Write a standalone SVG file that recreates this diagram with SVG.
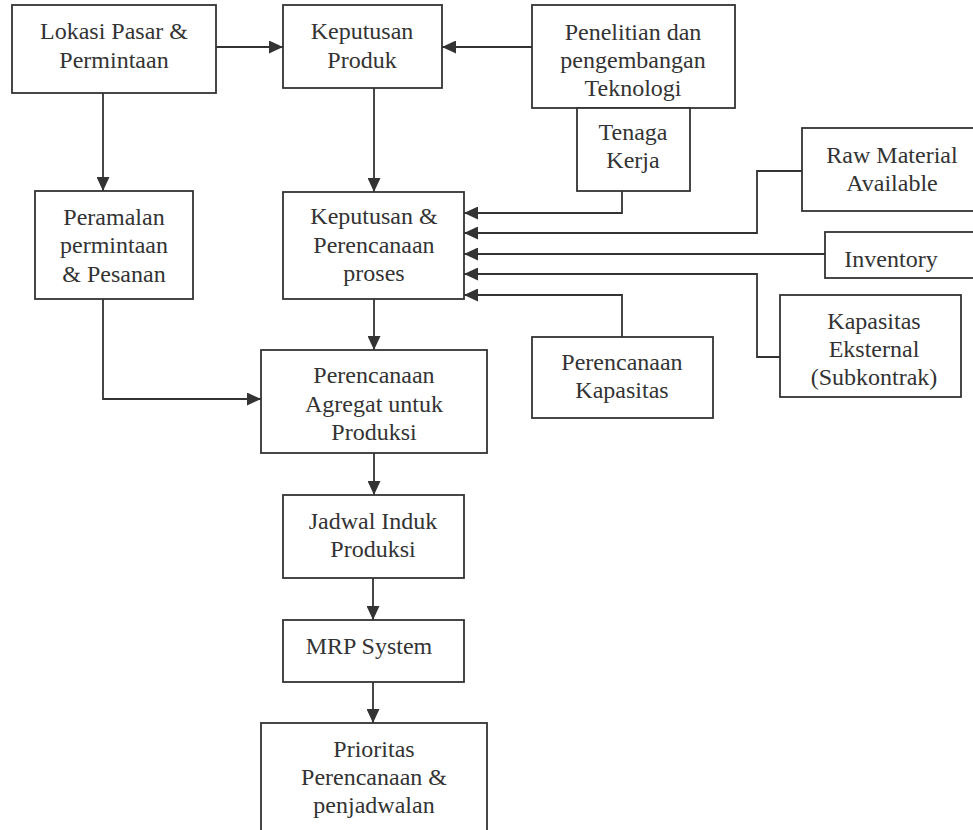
<svg xmlns="http://www.w3.org/2000/svg" width="973" height="830" viewBox="0 0 973 830">
<defs>
<marker id="ah" markerUnits="userSpaceOnUse" markerWidth="14" markerHeight="13" refX="14" refY="6.5" orient="auto">
<path d="M0,0 L14,6.5 L0,13 Z" fill="#333"/>
</marker>
</defs>
<rect width="973" height="830" fill="#fff"/>
<g id="connectors" fill="none" stroke="#333" stroke-width="1.8" marker-end="url(#ah)">
<path d="M216,47 H283"/>
<path d="M532,47 H442"/>
<path d="M103,93 V191"/>
<path d="M374,88 V192"/>
<path d="M622,191 V213 H464"/>
<path d="M802,171 H757 V233 H464"/>
<path d="M825,254 H464"/>
<path d="M780,357 H757 V274 H464"/>
<path d="M622,337 V295 H464"/>
<path d="M374,299 V350"/>
<path d="M103,299 V399 H261"/>
<path d="M374,453 V495"/>
<path d="M373,578 V620"/>
<path d="M373,682 V723"/>
</g>
<g id="lokasi"><rect fill="#fff" stroke="#333" stroke-width="1.8" x="12" y="5" width="204" height="88"/><text font-family="Times New Roman, Liberation Serif, serif" font-size="24" fill="#333" text-anchor="middle" x="114" y="39">Lokasi Pasar &amp;</text><text font-family="Times New Roman, Liberation Serif, serif" font-size="24" fill="#333" text-anchor="middle" x="114" y="68">Permintaan</text></g>
<g id="keputusan-produk"><rect fill="#fff" stroke="#333" stroke-width="1.8" x="283" y="5" width="159" height="83"/><text font-family="Times New Roman, Liberation Serif, serif" font-size="24" fill="#333" text-anchor="middle" x="362" y="39">Keputusan</text><text font-family="Times New Roman, Liberation Serif, serif" font-size="24" fill="#333" text-anchor="middle" x="362" y="68">Produk</text></g>
<g id="penelitian"><text font-family="Times New Roman, Liberation Serif, serif" font-size="24" fill="#333" text-anchor="middle" x="633" y="40">Penelitian dan</text><text font-family="Times New Roman, Liberation Serif, serif" font-size="24" fill="#333" text-anchor="middle" x="633" y="68">pengembangan</text><text font-family="Times New Roman, Liberation Serif, serif" font-size="24" fill="#333" text-anchor="middle" x="633" y="96">Teknologi</text><rect fill="none" stroke="#333" stroke-width="1.8" x="532" y="5" width="203" height="103"/></g>
<g id="tenaga"><rect fill="#fff" stroke="#333" stroke-width="1.8" x="577" y="108" width="113" height="83"/><text font-family="Times New Roman, Liberation Serif, serif" font-size="24" fill="#333" text-anchor="middle" x="633" y="140">Tenaga</text><text font-family="Times New Roman, Liberation Serif, serif" font-size="24" fill="#333" text-anchor="middle" x="633" y="168">Kerja</text></g>
<g id="raw-material"><rect fill="#fff" stroke="#333" stroke-width="1.8" x="802" y="128" width="180" height="83"/><text font-family="Times New Roman, Liberation Serif, serif" font-size="24" fill="#333" text-anchor="middle" x="892" y="163">Raw Material</text><text font-family="Times New Roman, Liberation Serif, serif" font-size="24" fill="#333" text-anchor="middle" x="892" y="191">Available</text></g>
<g id="inventory"><rect fill="#fff" stroke="#333" stroke-width="1.8" x="825" y="232" width="160" height="46"/><text font-family="Times New Roman, Liberation Serif, serif" font-size="24" fill="#333" text-anchor="middle" x="891" y="267">Inventory</text></g>
<g id="kapasitas-eksternal"><rect fill="#fff" stroke="#333" stroke-width="1.8" x="780" y="295" width="181" height="102"/><text font-family="Times New Roman, Liberation Serif, serif" font-size="24" fill="#333" text-anchor="middle" x="874" y="329">Kapasitas</text><text font-family="Times New Roman, Liberation Serif, serif" font-size="24" fill="#333" text-anchor="middle" x="874" y="357">Eksternal</text><text font-family="Times New Roman, Liberation Serif, serif" font-size="24" fill="#333" text-anchor="middle" x="874" y="385">(Subkontrak)</text></g>
<g id="keputusan-perencanaan"><rect fill="#fff" stroke="#333" stroke-width="1.8" x="283" y="192" width="181" height="107"/><text font-family="Times New Roman, Liberation Serif, serif" font-size="24" fill="#333" text-anchor="middle" x="374" y="224">Keputusan &amp;</text><text font-family="Times New Roman, Liberation Serif, serif" font-size="24" fill="#333" text-anchor="middle" x="374" y="253">Perencanaan</text><text font-family="Times New Roman, Liberation Serif, serif" font-size="24" fill="#333" text-anchor="middle" x="374" y="281">proses</text></g>
<g id="peramalan"><rect fill="#fff" stroke="#333" stroke-width="1.8" x="35" y="191" width="158" height="108"/><text font-family="Times New Roman, Liberation Serif, serif" font-size="24" fill="#333" text-anchor="middle" x="114" y="225">Peramalan</text><text font-family="Times New Roman, Liberation Serif, serif" font-size="24" fill="#333" text-anchor="middle" x="114" y="253">permintaan</text><text font-family="Times New Roman, Liberation Serif, serif" font-size="24" fill="#333" text-anchor="middle" x="114" y="282">&amp; Pesanan</text></g>
<g id="perencanaan-kapasitas"><rect fill="#fff" stroke="#333" stroke-width="1.8" x="532" y="337" width="181" height="81"/><text font-family="Times New Roman, Liberation Serif, serif" font-size="24" fill="#333" text-anchor="middle" x="622" y="370">Perencanaan</text><text font-family="Times New Roman, Liberation Serif, serif" font-size="24" fill="#333" text-anchor="middle" x="622" y="398">Kapasitas</text></g>
<g id="agregat"><rect fill="#fff" stroke="#333" stroke-width="1.8" x="261" y="350" width="226" height="103"/><text font-family="Times New Roman, Liberation Serif, serif" font-size="24" fill="#333" text-anchor="middle" x="374" y="383">Perencanaan</text><text font-family="Times New Roman, Liberation Serif, serif" font-size="24" fill="#333" text-anchor="middle" x="374" y="412">Agregat untuk</text><text font-family="Times New Roman, Liberation Serif, serif" font-size="24" fill="#333" text-anchor="middle" x="374" y="440">Produksi</text></g>
<g id="jadwal"><rect fill="#fff" stroke="#333" stroke-width="1.8" x="283" y="495" width="181" height="83"/><text font-family="Times New Roman, Liberation Serif, serif" font-size="24" fill="#333" text-anchor="middle" x="373" y="529">Jadwal Induk</text><text font-family="Times New Roman, Liberation Serif, serif" font-size="24" fill="#333" text-anchor="middle" x="373" y="557">Produksi</text></g>
<g id="mrp"><rect fill="#fff" stroke="#333" stroke-width="1.8" x="283" y="620" width="181" height="62"/><text font-family="Times New Roman, Liberation Serif, serif" font-size="24" fill="#333" text-anchor="middle" x="369" y="654">MRP System</text></g>
<g id="prioritas"><rect fill="#fff" stroke="#333" stroke-width="1.8" x="261" y="723" width="226" height="120"/><text font-family="Times New Roman, Liberation Serif, serif" font-size="24" fill="#333" text-anchor="middle" x="374" y="757">Prioritas</text><text font-family="Times New Roman, Liberation Serif, serif" font-size="24" fill="#333" text-anchor="middle" x="374" y="785">Perencanaan &amp;</text><text font-family="Times New Roman, Liberation Serif, serif" font-size="24" fill="#333" text-anchor="middle" x="374" y="813">penjadwalan</text></g>
</svg>
